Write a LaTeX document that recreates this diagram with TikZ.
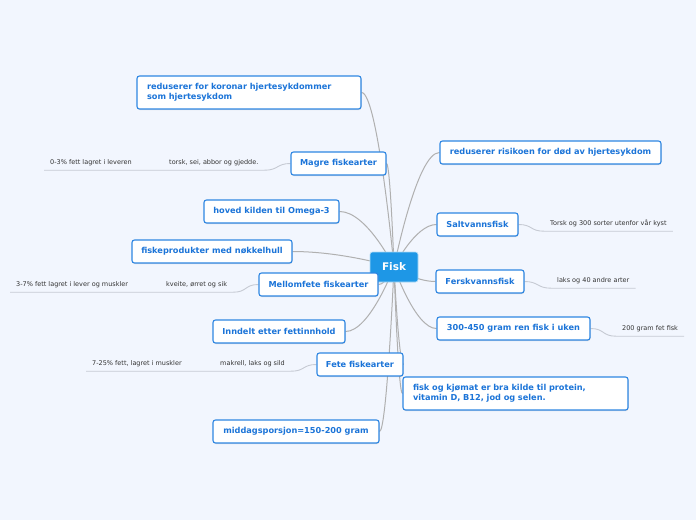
\documentclass[tikz,border=0pt]{standalone}
\usepackage{fontspec}
\setmainfont{DejaVu Sans}
\usetikzlibrary{calc,backgrounds,shadows}
\definecolor{bgpaper}{HTML}{F2F6FE}
\definecolor{topicblue}{HTML}{1B74D8}
\definecolor{edgeblue}{HTML}{2E86E2}
\definecolor{rootblue}{HTML}{1E97E6}
\definecolor{linkgray}{HTML}{B0B0B0}
\definecolor{notegray}{HTML}{C6CAD3}
\tikzset{
  topic/.style={draw=edgeblue,line width=1.1pt,fill=white,rounded corners=2.5pt,text=topicblue,
    font=\bfseries\fontsize{8.2}{10}\selectfont,minimum height=23pt,inner xsep=3pt,
    drop shadow={shadow xshift=0.5pt,shadow yshift=-1pt,opacity=0.25}},
  wide/.style={text width=#1,align=left,inner xsep=10pt,minimum height=33pt},
  root/.style={fill=rootblue,draw=white!65!rootblue,line width=0.6pt,rounded corners=2.5pt,text=white,
    font=\bfseries\fontsize{10.5}{12}\selectfont,minimum width=48pt,minimum height=30pt,inner sep=0pt},
  note/.style={font=\fontsize{6.5}{8}\selectfont,text=black!80,anchor=west,inner xsep=6pt,inner ysep=0pt,
    minimum height=14pt,text height=4.8pt,text depth=1.3pt},
  link/.style={draw=linkgray,line width=1pt},
  notelink/.style={draw=notegray,line width=0.9pt}
}
\begin{document}
\begin{tikzpicture}[x=1pt,y=-1pt]
  \useasboundingbox (0,0) rectangle (696,520);
  % centre
  \node[root] (fisk) at (394,267) {Fisk};
  % left branches
  \node[topic,wide=204pt] (koronar) at (249,92.5) {reduserer for koronar hjertesykdommer\\som hjertesykdom};
  \node[topic,minimum width=95pt] (magre) at (338.5,163.5) {Magre fiskearter};
  \node[topic,minimum width=135pt] (omega) at (271.5,211.5) {hoved kilden til Omega-3};
  \node[topic,minimum width=160pt] (hull) at (212,251.5) {fiskeprodukter med nøkkelhull};
  \node[topic,minimum width=119pt] (mellom) at (318.5,284.5) {Mellomfete fiskearter};
  \node[topic,minimum width=132pt] (inndelt) at (279,331.5) {Inndelt etter fettinnhold};
  \node[topic,minimum width=86pt] (fete) at (360,364.5) {Fete fiskearter};
  \node[topic,minimum width=166pt] (porsjon) at (296,431.5) {middagsporsjon=150-200 gram};
  % right branches
  \node[topic,minimum width=221pt] (risiko) at (550.5,152.5) {reduserer risikoen for død av hjertesykdom};
  \node[topic,minimum width=81pt] (salt) at (477.5,224.5) {Saltvannsfisk};
  \node[topic,minimum width=88pt] (fersk) at (480,281.5) {Ferskvannsfisk};
  \node[topic,minimum width=153pt] (uke) at (513.5,328.5) {300-450 gram ren fisk i uken};
  \node[topic,wide=205pt] (protein) at (515.5,393.5) {fisk og kjømat er bra kilde til protein,\\vitamin D, B12, jod og selen.};
  % notes
  \node[note] (torsk) at (163,163) {torsk, sei, abbor og gjedde.};
  \node[note] (lever) at (44,163) {0-3\% fett lagret i leveren};
  \node[note] (kveite) at (160,285) {kveite, ørret og sik};
  \node[note] (muskel) at (10,285) {3-7\% fett lagret i lever og muskler};
  \node[note] (makrell) at (214,364) {makrell, laks og sild};
  \node[note] (fett) at (86,364) {7-25\% fett, lagret i muskler};
  \node[note] (kyst) at (544,224) {Torsk og 300 sorter utenfor vår kyst};
  \node[note] (arter) at (551,281) {laks og 40 andre arter};
  \node[note] (fetfisk) at (616,329) {200 gram fet fisk};
  \begin{pgfonlayer}{background}
    \fill[bgpaper] (0,0) rectangle (696,520);
    % links from the centre
    \foreach \n/\s in {koronar/east,magre/east,omega/east,hull/east,mellom/east,inndelt/east,fete/east,porsjon/east,
      risiko/west,salt/west,fersk/west,uke/west,protein/west}{
      \draw[link] (fisk.center) .. controls (fisk.center) and ($(\n.\s)!0.5!(fisk.center |- \n.\s)$) .. (\n.\s);}
    % note chains
    \foreach \t/\a/\b in {magre/torsk/lever,mellom/kveite/muskel,fete/makrell/fett}{
      \draw[notelink] (\t.west) .. controls +(-14,0) and +(14,0) .. (\a.south east) -- (\b.south west);}
    \foreach \t/\a in {salt/kyst,fersk/arter,uke/fetfisk}{
      \draw[notelink] (\t.east) .. controls +(14,0) and +(-14,0) .. (\a.south west) -- (\a.south east);}
  \end{pgfonlayer}
\end{tikzpicture}
\end{document}
